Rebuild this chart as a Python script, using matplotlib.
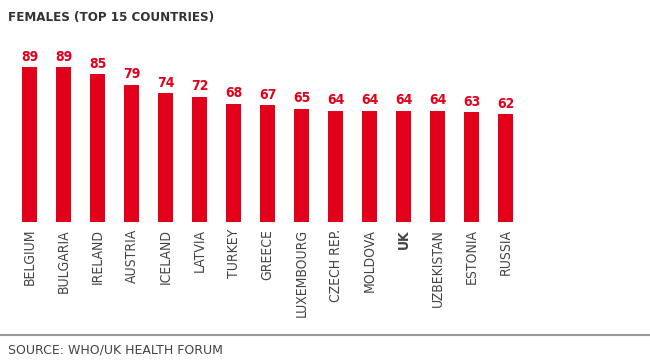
import matplotlib.pyplot as plt
import numpy as np

countries = ['BELGIUM', 'BULGARIA', 'IRELAND', 'AUSTRIA', 'ICELAND', 'LATVIA',
             'TURKEY', 'GREECE', 'LUXEMBOURG', 'CZECH REP.', 'MOLDOVA', 'UK',
             'UZBEKISTAN', 'ESTONIA', 'RUSSIA']
values = [89, 89, 85, 79, 74, 72, 68, 67, 65, 64, 64, 64, 64, 63, 62]

red = '#e2001a'
grey = '#444444'

fig = plt.figure(figsize=(6.5, 3.6), dpi=100)
ax = fig.add_axes([12.5 / 650, 138 / 360, 510 / 650, 174 / 360])

# bars with value labels on top
x = np.arange(len(countries))
ax.bar(x, values, width=0.44, color=red)
for xi, v in zip(x, values):
    ax.text(xi, v + 2, str(v), ha='center', va='bottom', color=red,
            fontsize=10, fontweight='bold', fontstretch='condensed')

# country names under the bars, UK in bold
for xi, c in zip(x, countries):
    ax.text(xi, -4, c, rotation=90, ha='center', va='top', color=grey,
            fontsize=10, fontstretch='condensed',
            fontweight='bold' if c == 'UK' else 'normal')

ax.set_xlim(-0.5, len(countries) - 0.5)
ax.set_ylim(0, 100)
ax.axis('off')

fig.text(8 / 650, 1 - 18 / 360, 'FEMALES (TOP 15 COUNTRIES)', ha='left',
         va='center', fontsize=9.5, fontweight='bold', fontstretch='condensed',
         color='#333333')
fig.add_artist(plt.Line2D([0, 1], [1 - 335 / 360] * 2, color='#999999', lw=1.5))
fig.text(8 / 650, 1 - 350 / 360, 'SOURCE: WHO/UK HEALTH FORUM', ha='left',
         va='center', fontsize=9, color='#444444')

fig.savefig('out.png', dpi=100)
